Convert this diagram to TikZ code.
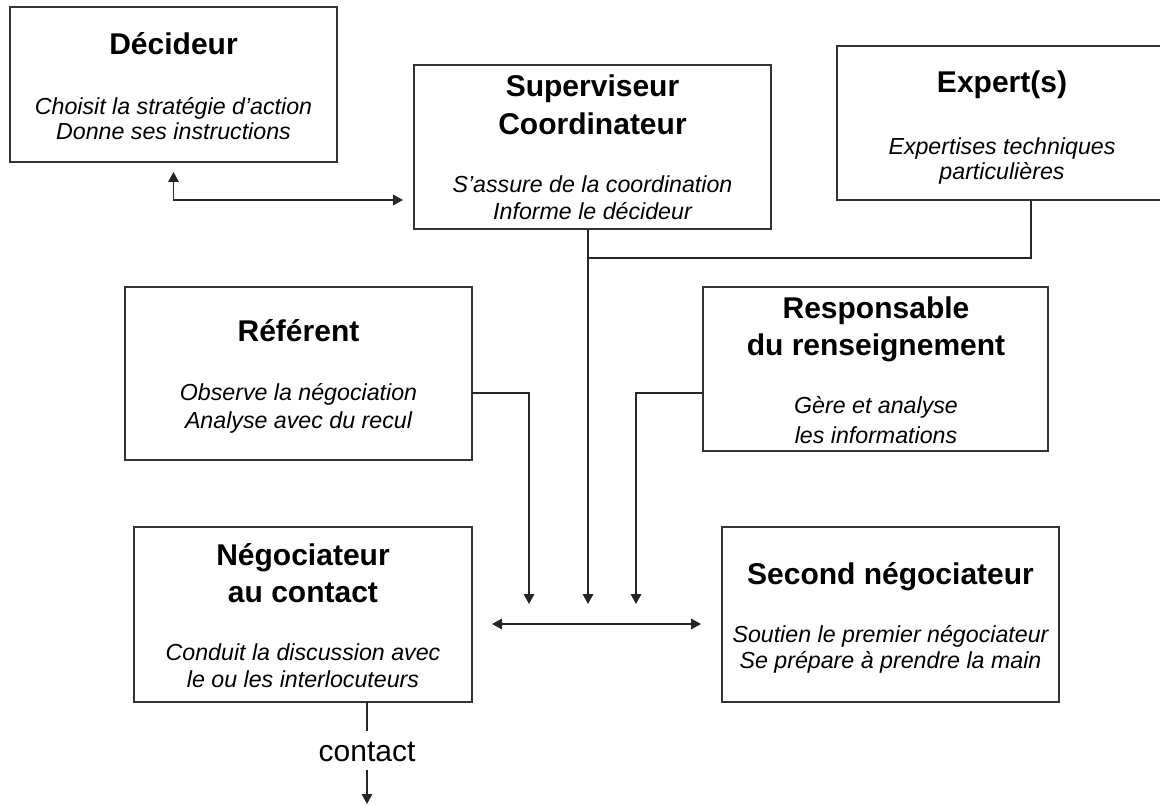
\documentclass[tikz,border=0pt]{standalone}
\usepackage{fontspec}
\setmainfont{Liberation Sans}
\usetikzlibrary{arrows.meta}
\begin{document}
\begin{tikzpicture}[x=0.75pt,y=-0.75pt,
  box/.style={draw=black!80,line width=0.9pt,inner sep=0pt,outer sep=0pt},
  ttl/.style={anchor=base,inner sep=0pt,font=\fontsize{22.5}{27}\selectfont\bfseries},
  sub/.style={anchor=base,inner sep=0pt,font=\fontsize{17.4}{21}\selectfont\itshape},
  conn/.style={draw=black!85,line width=0.9pt},
  arr/.style={conn,-{Triangle[length=7.5pt,width=8pt]}},
  darr/.style={conn,{Triangle[length=7.5pt,width=8pt]}-{Triangle[length=7.5pt,width=8pt]}}]
\useasboundingbox (0,0) rectangle (1160,805);
\clip (0,0) rectangle (1160,805);
% boxes
\node[box,minimum width=245.25pt,minimum height=116.25pt] (dec) at (173.5,84.5) {};
\node[box,minimum width=267.75pt,minimum height=123pt] (sup) at (592.5,147) {};
\node[box,minimum width=247.5pt,minimum height=115.5pt] (exp) at (1002,123) {};
\node[box,minimum width=260.25pt,minimum height=129.75pt] (ref) at (298.5,373.5) {};
\node[box,minimum width=258.75pt,minimum height=123pt] (resp) at (875.5,369) {};
\node[box,minimum width=253.5pt,minimum height=131.25pt] (neg) at (303,614.5) {};
\node[box,minimum width=252.75pt,minimum height=131.25pt] (sec) at (890.5,614.5) {};
% texts
\node[ttl] (dect) at (173.5,55) {Décideur};
\node[sub] (decs1) at (173.5,115) {Choisit la stratégie d’action};
\node[sub] (decs2) at (173.5,140) {Donne ses instructions};
\node[ttl] (supt1) at (592.5,97) {Superviseur};
\node[ttl] (supt2) at (592.5,135) {Coordinateur};
\node[sub] (sups1) at (592.5,193) {S’assure de la coordination};
\node[sub] (sups2) at (592.5,220) {Informe le décideur};
\node[ttl] (expt) at (1002,93) {Expert(s)};
\node[sub] (exps1) at (1002,155) {Expertises techniques};
\node[sub] (exps2) at (1002,180) {particulières};
\node[ttl] (reft) at (298.5,342) {Référent};
\node[sub] (refs1) at (298.5,401) {Observe la négociation};
\node[sub] (refs2) at (298.5,428) {Analyse avec du recul};
\node[ttl] (respt1) at (876,319) {Responsable};
\node[ttl] (respt2) at (876,356) {du renseignement};
\node[sub] (resps1) at (876,414) {Gère et analyse};
\node[sub] (resps2) at (876,443) {les informations};
\node[ttl] (negt1) at (303,565) {Négociateur};
\node[ttl] (negt2) at (303,602) {au contact};
\node[sub] (negs1) at (303,660) {Conduit la discussion avec};
\node[sub] (negs2) at (303,687) {le ou les interlocuteurs};
\node[ttl] (sect) at (890.5,584) {Second négociateur};
\node[sub] (secs1) at (890.5,642) {Soutien le premier négociateur};
\node[sub] (secs2) at (890.5,668) {Se prépare à prendre la main};
\node[anchor=base,inner sep=0pt,font=\fontsize{22.5}{27}\selectfont] (ct) at (367,761) {contact};
% junction coordinates
\coordinate (dj) at (173.5,200);
\coordinate (mtip) at (588,604);
\coordinate (mj) at (588,258);
\coordinate (ej) at (1031,258);
\coordinate (rj) at (529,393);
\coordinate (rtip) at (529,604);
\coordinate (sj) at (636,393);
\coordinate (stip) at (636,604);
\coordinate (da) at (0,624);
\coordinate (ctip) at (367,804);
% connectors
\draw[darr,shorten <=7.5pt,shorten >=8.25pt] (dec.south) -- (dj) -- (sup.west |- dj);
\draw[arr] (sup.south -| mtip) -- (mtip);
\draw[conn] (exp.south -| ej) -- (ej) -- (mj);
\draw[arr] (ref.east |- rj) -- (rj) -- (rtip);
\draw[arr] (resp.west |- sj) -- (sj) -- (stip);
\draw[darr,shorten <=15pt,shorten >=15.75pt] (neg.east |- da) -- (sec.west |- da);
\draw[conn,shorten >=8pt] (neg.south -| ct) -- (ct.north);
\draw[arr,shorten <=6pt] (ct.south) -- (ctip);
\end{tikzpicture}
\end{document}
